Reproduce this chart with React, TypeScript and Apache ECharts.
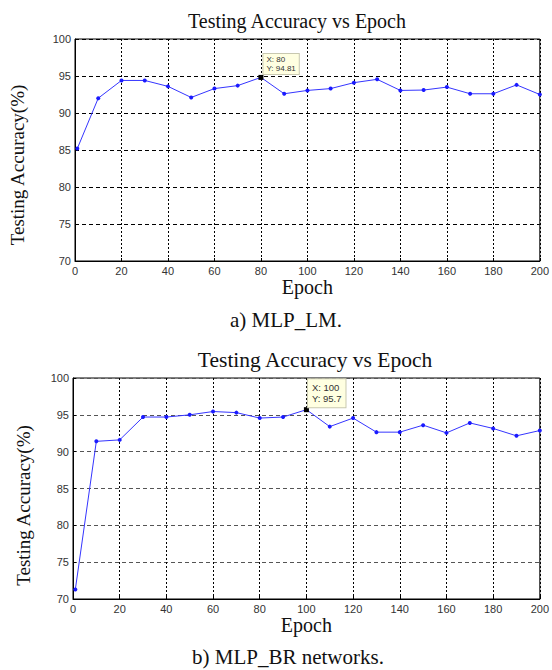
import React, { useEffect, useRef } from "react";
import * as echarts from "echarts";

const epochs = [1, 10, 20, 30, 40, 50, 60, 70, 80, 90, 100, 110, 120, 130, 140, 150, 160, 170, 180, 190, 200];
const accLM = [85.2, 92.0, 94.4, 94.4, 93.6, 92.1, 93.3, 93.7, 94.81, 92.6, 93.05, 93.3, 94.1, 94.55, 93.05, 93.1, 93.5, 92.6, 92.6, 93.8, 92.5];
const accBR = [71.3, 91.4, 91.6, 94.7, 94.7, 95.0, 95.45, 95.3, 94.56, 94.7, 95.7, 93.4, 94.56, 92.65, 92.65, 93.6, 92.55, 93.9, 93.15, 92.15, 92.87];
const chartTitles = ["Testing Accuracy vs Epoch", "Testing Accuracy vs Epoch"];
const captions = ["a) MLP_LM.", "b) MLP_BR networks."];
const xName = "Epoch";
const yName = "Testing Accuracy(%)";
const highlightLM = { x: 80, y: 94.81 };
const highlightBR = { x: 100, y: 95.7 };

const SERIF = "Liberation Serif";
const SANS = "Liberation Sans";

export default function App() {
  const ref = useRef<HTMLDivElement>(null);
  useEffect(() => {
    if (!ref.current) return;
    const chart = echarts.init(ref.current, null, { renderer: "svg" });
    const makeX = (gi: number) => ({
      type: "value",
      gridIndex: gi,
      min: 0,
      max: 200,
      interval: 20,
      name: xName,
      nameLocation: "middle",
      nameGap: 16,
      nameTextStyle: { fontFamily: SERIF, fontSize: 20, color: "#111" },
      axisLine: { show: true, lineStyle: { color: "#000", width: 1 } },
      axisTick: { show: true, inside: true, length: 3, lineStyle: { color: "#000" } },
      axisLabel: { fontFamily: SANS, fontSize: 11, color: "#333", margin: 4 },
      splitLine: { show: true, lineStyle: { color: "#000", type: [2, 2], width: 1 } },
    });
    const makeY = (gi: number, hColor: string, pad: number[]) => ({
      type: "value",
      gridIndex: gi,
      min: 70,
      max: 100,
      interval: 5,
      name: yName,
      nameLocation: "middle",
      nameGap: gi === 0 ? 48 : 40,
      nameTextStyle: { fontFamily: SERIF, fontSize: 19, color: "#111", padding: pad },
      axisLine: { show: true, lineStyle: { color: "#000", width: 1 } },
      axisTick: { show: true, inside: true, length: 3, lineStyle: { color: "#000" } },
      axisLabel: { fontFamily: SANS, fontSize: 11, color: "#333", margin: 4 },
      splitLine: { show: true, lineStyle: { color: hColor, type: [4, 3], width: 1 } },
    });
    const mkSeries = (gi: number, vals: number[], hl: { x: number; y: number }, fs: number, lh: number, pad: number[], pos: number[]) => ({
      type: "line",
      xAxisIndex: gi,
      yAxisIndex: gi,
      data: epochs.map((e, i) => [e, vals[i]]),
      lineStyle: { color: "#3535ff", width: 1 },
      itemStyle: { color: "#1a1aff" },
      symbol: "circle",
      symbolSize: 4,
      z: 3,
      markPoint: {
        symbol: "rect",
        symbolSize: 5,
        itemStyle: { color: "#000" },
        label: {
          show: true,
          position: pos,
          align: "left",
          verticalAlign: "top",
          formatter: () => `X: ${hl.x}\nY: ${hl.y}`,
          fontFamily: SANS,
          fontSize: fs,
          lineHeight: lh,
          color: "#333",
          backgroundColor: "#ffffe1",
          borderColor: "#c8c8b0",
          borderWidth: 1,
          padding: pad,
        },
        data: [{ coord: [hl.x, hl.y] }],
      },
    });
    chart.setOption({
      animation: false,
      backgroundColor: "#fff",
      title: [
        { text: chartTitles[0], left: 292, top: 6, textAlign: "center", textStyle: { fontFamily: SERIF, fontSize: 20, fontWeight: "normal", color: "#111" } },
        { text: chartTitles[1], left: 310, top: 344, textAlign: "center", textStyle: { fontFamily: SERIF, fontSize: 21.5, fontWeight: "normal", color: "#111" } },
        { text: captions[0], left: 281, top: 304, textAlign: "center", textStyle: { fontFamily: SERIF, fontSize: 21, fontWeight: "normal", color: "#111" } },
        { text: captions[1], left: 283, top: 641, textAlign: "center", textStyle: { fontFamily: SERIF, fontSize: 21, fontWeight: "normal", color: "#111" } },
      ],
      grid: [
        { left: 71, top: 39, width: 473, height: 222, show: true, borderColor: "#000", borderWidth: 1, backgroundColor: "transparent" },
        { left: 73, top: 378, width: 469, height: 221, show: true, borderColor: "#000", borderWidth: 1, backgroundColor: "transparent" },
      ],
      xAxis: [makeX(0), makeX(1)],
      yAxis: [makeY(0, "#000", [0, 30, 0, 0]), makeY(1, "#555", [0, 34, 0, 0])],
      series: [
        mkSeries(0, accLM, highlightLM, 8, 9, [1, 3, 1, 3], [5, -21]),
        mkSeries(1, accBR, highlightBR, 9.5, 11, [3, 4, 3, 4], [4, -28]),
      ],
    });
    return () => chart.dispose();
  }, []);
  return <div ref={ref} style={{ position: "fixed", left: 0, top: 0, width: 552, height: 670 }} />;
}
